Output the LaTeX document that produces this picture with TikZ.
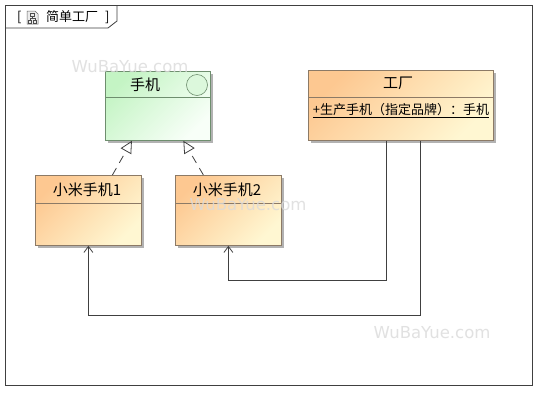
\documentclass[tikz,border=0pt]{standalone}
\usepackage{fontspec}
\setmainfont{Noto Sans CJK SC}
\newfontfamily\wmfont{DejaVu Sans}
\usetikzlibrary{arrows.meta,shadows,calc}
\definecolor{oraTL}{HTML}{FDC891}
\definecolor{oraBR}{HTML}{FFF7D2}
\definecolor{grnTL}{HTML}{C4F4C4}
\definecolor{grnBR}{HTML}{F8FFF8}
\definecolor{oraLine}{HTML}{8C7A66}
\definecolor{grnLine}{HTML}{6E8E6E}
\definecolor{ink}{HTML}{404040}
\definecolor{wm}{HTML}{DADADA}
\tikzset{
  box/.style={anchor=north west, inner sep=0pt, line width=0.8pt, shading angle=45,
    drop shadow={shadow xshift=3pt, shadow yshift=-3pt, fill=black!30, opacity=1}},
  orabox/.style={box, draw=oraLine, top color=oraTL, bottom color=oraBR, shading angle=45},
  grnbox/.style={box, draw=grnLine, top color=grnTL, bottom color=grnBR, shading angle=45},
  head/.style={font=\fontsize{15}{17}\selectfont, inner sep=0pt, text=black},
  meth/.style={font=\fontsize{13}{15}\selectfont, inner sep=0pt, text=black},
  assoc/.style={draw=ink, line width=0.8pt, -{Straight Barb[length=6pt,width=9pt,line width=0.8pt]}},
  inh/.style={draw=ink, line width=0.8pt, dash pattern=on 8pt off 6pt,
    -{Triangle[open,length=12pt,width=12pt,line width=0.8pt]}},
  wmark/.style={font=\wmfont\fontsize{16.5}{18}\selectfont, text=wm, inner sep=0pt},
}
\begin{document}
\begin{tikzpicture}[x=1pt,y=-1pt]
\useasboundingbox (0,0) rectangle (547,400);
\fill[white] (0,0) rectangle (547,400);
% frame
\draw[ink, line width=0.9pt] (5,5) rectangle (532,385);
\draw[ink, line width=0.8pt] (5,28) -- (108,28) -- (117,21) -- (117,5);
\node[font=\fontsize{13}{15}\selectfont, inner sep=0pt, anchor=west] (lb) at (17,17) {[};
\node[font=\fontsize{13}{15}\selectfont, inner sep=0pt, anchor=west] (title) at (46,17) {简单工厂};
\node[font=\fontsize{13}{15}\selectfont, inner sep=0pt, anchor=west] (rb) at (105,17) {]};
% icon
\draw[black!60, fill=black!8, line width=0.5pt] (27,11) -- (35,11) -- (38,14) -- (38,24) -- (27,24) -- cycle;
\draw[black!70, line width=0.5pt] (30.5,13) rectangle (34.5,16);
\draw[black!70, line width=0.5pt] (28.5,20) rectangle (31.5,23);
\draw[black!70, line width=0.5pt] (33.5,20) rectangle (36.5,23);
\draw[black!70, line width=0.5pt] (32.5,16) -- (32.5,18) (30,18) -- (35,18) (30,18) -- (30,20) (35,18) -- (35,20);
% boxes
\node[grnbox, minimum width=105pt, minimum height=69pt] (ph) at (105,71) {};
\draw[grnLine, line width=0.8pt] ([yshift=-26pt]ph.north west) -- ([yshift=-26pt]ph.north east);
\node[head, anchor=center] (pht) at (145,84.5) {手机};
\node[circle, draw=grnLine, fill=grnTL!60, line width=0.6pt, minimum size=21pt, inner sep=0pt] (phc) at (197,85) {};

\node[orabox, minimum width=185pt, minimum height=70pt] (fac) at (308,70) {};
\draw[oraLine, line width=0.8pt] ([yshift=-27pt]fac.north west) -- ([yshift=-27pt]fac.north east);
\node[head, anchor=center] (fact) at (398,83.5) {工厂};
\node[meth, anchor=center] (facm) at (401,110.5) {\underline{+生产手机（指定品牌）：手机}};

\node[orabox, minimum width=106pt, minimum height=70pt] (m1) at (35,175) {};
\draw[oraLine, line width=0.8pt] ([yshift=-28pt]m1.north west) -- ([yshift=-28pt]m1.north east);
\node[head, anchor=center] (m1t) at (87,190) {小米手机1};

\node[orabox, minimum width=106pt, minimum height=70pt] (m2) at (175,175) {};
\draw[oraLine, line width=0.8pt] ([yshift=-28pt]m2.north west) -- ([yshift=-28pt]m2.north east);
\node[head, anchor=center] (m2t) at (227,190) {小米手机2};

% inheritance
\draw[inh] ([xshift=24pt]m1.north) -- ([xshift=-26pt]ph.south);
\draw[inh] ([xshift=-25pt]m2.north) -- ([xshift=25.5pt]ph.south);
% associations
\draw[assoc] ([xshift=-14.5pt]fac.south) |- ([yshift=-35pt]m2.south) -- (m2.south);
\draw[assoc] ([xshift=19.5pt]fac.south) |- ([yshift=-70pt]m1.south) -- (m1.south);
% watermarks
\node[wmark, opacity=0.8] (w1) at (130,67) {WuBaYue.com};
\node[wmark, opacity=0.8] (w2) at (248,205) {WuBaYue.com};
\node[wmark, opacity=0.8] (w3) at (432,333) {WuBaYue.com};
\end{tikzpicture}
\end{document}
